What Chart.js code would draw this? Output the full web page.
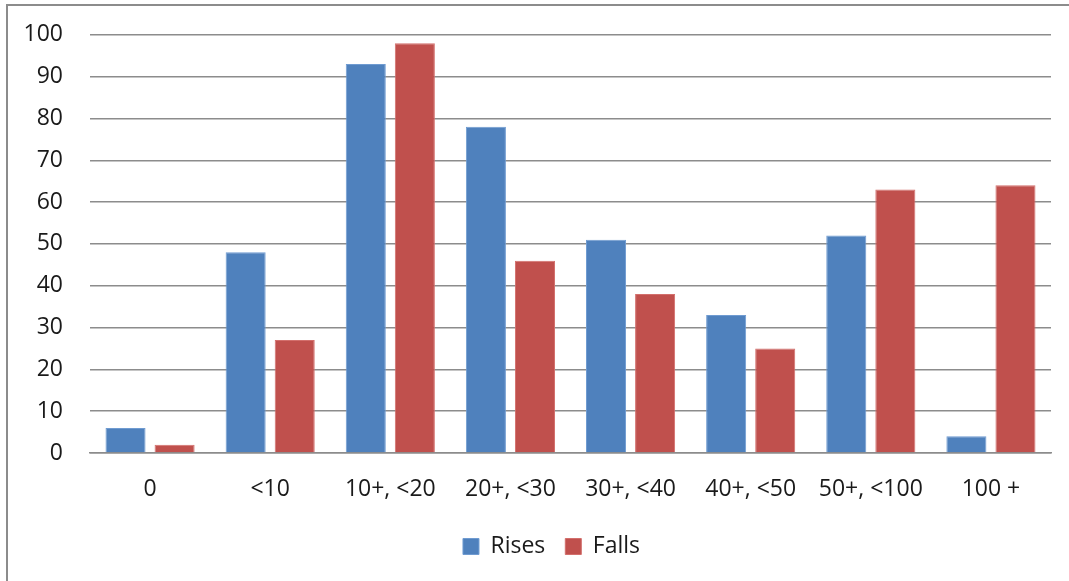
<!DOCTYPE html>
<html>
<head>
<meta charset="utf-8">
<script src="https://cdn.jsdelivr.net/npm/chart.js@4/dist/chart.umd.min.js"></script>
<style>
  html, body { margin: 0; padding: 0; background: #fff; }
  #wrap { position: relative; width: 1069px; height: 581px; overflow: hidden; }
  #frame { position: absolute; left: 6px; top: 4px; width: 1200px; height: 700px;
           border-left: 2px solid #8c8c8c; border-top: 2px solid #8c8c8c; pointer-events: none; }
  canvas { position: absolute; left: 0; top: 0; }
</style>
</head>
<body>
<div id="wrap">
  <canvas id="chart" width="1069" height="581"></canvas>
  <div id="frame"></div>
</div>
<script>
'use strict';

const categories = ['0', '<10', '10+, <20', '20+, <30', '30+, <40', '40+, <50', '50+, <100', '100 +'];
const rises = [6, 48, 93, 78, 51, 33, 52, 4];
const falls = [2, 27, 98, 46, 38, 25, 63, 64];

const fontFamily = "'Open Sans', 'Noto Sans', sans-serif";
const textColor = '#1a1a1a';

// legend sits a little right of the canvas centre in the original
const legendShift = {
    id: 'legendShift',
    afterLayout(chart) {
        chart.legend.left += 26;
        chart.legend.right += 26;
    },
};

let barChart = new Chart(
    document.querySelector('#chart'), {
        type: 'bar',
        data: {
            labels: categories,
            datasets: [{
                label: 'Rises',
                data: rises,
                backgroundColor: '#4f81bd',
                borderColor: '#6f9bd1',
                borderWidth: 1,
                categoryPercentage: 0.817,
                barPercentage: 0.816,
                },
                {
                label: 'Falls',
                data: falls,
                backgroundColor: '#c0504d',
                borderColor: '#d36f6c',
                borderWidth: 1,
                categoryPercentage: 0.817,
                barPercentage: 0.816,
                }]
            },
        options: {
            responsive: false,
            animation: false,
            layout: { padding: { left: 0, right: 18, top: 19, bottom: 13 } },
            scales: {
                x: {
                    grid: { display: false, drawTicks: false },
                    border: { display: true, color: '#8c8c8c', width: 1.5 },
                    ticks: { color: textColor, font: { family: fontFamily, size: 23 }, padding: 23 },
                    afterFit: (scale) => { scale.height = 62; },
                },
                y: {
                    min: 0,
                    max: 100,
                    ticks: { stepSize: 10, color: textColor, font: { family: fontFamily, size: 23 }, padding: 21 },
                    grid: { color: '#8c8c8c', lineWidth: 1.5, drawTicks: true, tickLength: 6, tickColor: 'transparent' },
                    border: { display: false },
                    afterFit: (scale) => { scale.width = 90; },
                },
            },
            plugins: {
                legend: {
                    position: 'bottom',
                    labels: {
                        color: textColor,
                        font: { family: fontFamily, size: 23 },
                        boxWidth: 16,
                        boxHeight: 16,
                        padding: 20,
                    },
                },
                tooltip: { enabled: false },
            },
        },
        plugins: [legendShift],
    });
</script>
</body>
</html>
